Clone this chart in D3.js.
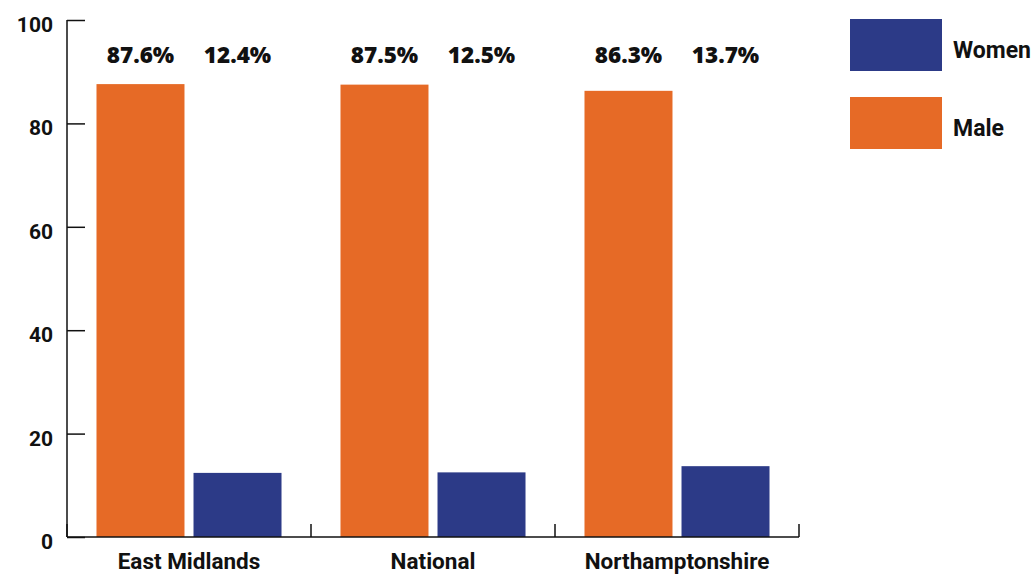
<!DOCTYPE html>
<html>
<head>
<meta charset="utf-8">
<script src="https://cdn.jsdelivr.net/npm/d3@7"></script>
<style>
  body { margin: 0; background: #fff; }
  text { font-family: Roboto, sans-serif; font-weight: 700; fill: #111; }
</style>
</head>
<body>
<div class="canvas"></div>
<script>
// Data
const regions = ['East Midlands', 'National', 'Northamptonshire']
const series = ['Male', 'Women']
const maleValues = [87.6, 87.5, 86.3]
const womenValues = [12.4, 12.5, 13.7]
const yTicks = [0, 20, 40, 60, 80, 100]
const legendOrder = ['Women', 'Male']

const colors = {Male: '#E66A26', Women: '#2C3A87'}

const width = 1032
const height = 575
const margin = {top: 20, right: 233, bottom: 38, left: 67}

const svg = d3.select('.canvas')
    .append('svg')
        .attr('width', width)
        .attr('height', height)

// Scales
const x0 = d3.scaleBand()
    .domain(regions)
    .range([margin.left, width - margin.right])
    .padding(0)

const x1 = d3.scaleBand()
    .domain(series)
    .range([0, x0.bandwidth()])
    .paddingInner(0.093)
    .paddingOuter(0.304)

const y = d3.scaleLinear()
    .domain([0, 100])
    .range([height - margin.bottom, margin.top])

const data = regions.map((r, i) => ({region: r, Male: maleValues[i], Women: womenValues[i]}))

// Bars
const groups = svg.selectAll('g.group')
    .data(data)
    .enter()
    .append('g')
        .attr('class', 'group')
        .attr('transform', d => `translate(${x0(d.region)},0)`)

groups.selectAll('rect')
    .data(d => series.map(s => ({key: s, value: d[s]})))
    .enter()
    .append('rect')
        .attr('x', d => x1(d.key))
        .attr('width', x1.bandwidth())
        .attr('y', d => y(d.value))
        .attr('height', d => y(0) - y(d.value))
        .attr('fill', d => colors[d.key])

// Value labels (all on one line near the top)
groups.selectAll('text.val')
    .data(d => series.map(s => ({key: s, value: d[s]})))
    .enter()
    .append('text')
        .attr('class', 'val')
        .attr('x', d => x1(d.key) + x1.bandwidth() / 2)
        .attr('y', 63)
        .attr('text-anchor', 'middle')
        .style('font-family', '"Open Sans", sans-serif')
        .style('font-weight', 800)
        .style('font-size', '22.5px')
        .text(d => d.value.toFixed(1) + '%')

// Y axis
const yAxis = d3.axisLeft(y)
    .tickValues(yTicks)
    .tickSize(-18)
    .tickPadding(32)

svg.append('g')
    .attr('transform', `translate(${margin.left},0)`)
    .call(yAxis)
    .call(g => g.select('.domain').attr('stroke', '#111').attr('stroke-width', 1.5).attr('d', `M0,${y(100)}V${y(0)}`))
    .call(g => g.selectAll('.tick line').attr('stroke', '#111').attr('stroke-width', 1.5))
    .call(g => g.selectAll('.tick text')
        .attr('dy', '0.55em')
        .attr('dx', 18)
        .style('font-size', '21px')
        .style('font-family', 'Roboto, sans-serif')
        .style('font-weight', 700)
        .attr('fill', '#111'))

// X axis: line plus dividers at group boundaries
const xAxis = d3.axisBottom(x0)
    .tickSize(0)
    .tickPadding(16)

svg.append('g')
    .attr('transform', `translate(0,${y(0)})`)
    .call(xAxis)
    .call(g => g.select('.domain').attr('stroke', '#111').attr('stroke-width', 1.5).attr('d', `M${margin.left},0H${width - margin.right}`))
    .call(g => g.selectAll('.tick text')
        .style('font-size', '22.5px')
        .style('font-family', 'Roboto, sans-serif')
        .style('font-weight', 700)
        .attr('fill', '#111'))

const dividers = regions.map(r => x0(r)).concat([x0(regions[regions.length - 1]) + x0.bandwidth()])
svg.selectAll('line.divider')
    .data(dividers)
    .enter()
    .append('line')
        .attr('class', 'divider')
        .attr('x1', d => d)
        .attr('x2', d => d)
        .attr('y1', y(0))
        .attr('y2', y(0) - 13)
        .attr('stroke', '#111')
        .attr('stroke-width', 1.5)

// Legend
const legend = svg.selectAll('g.legend')
    .data(legendOrder)
    .enter()
    .append('g')
        .attr('class', 'legend')
        .attr('transform', (d, i) => `translate(850,${19 + i * 78})`)

legend.append('rect')
    .attr('width', 92)
    .attr('height', 52)
    .attr('fill', d => colors[d])

legend.append('text')
    .attr('x', 103)
    .attr('y', 39)
    .style('font-size', '23px')
    .text(d => d)
</script>
</body>
</html>
